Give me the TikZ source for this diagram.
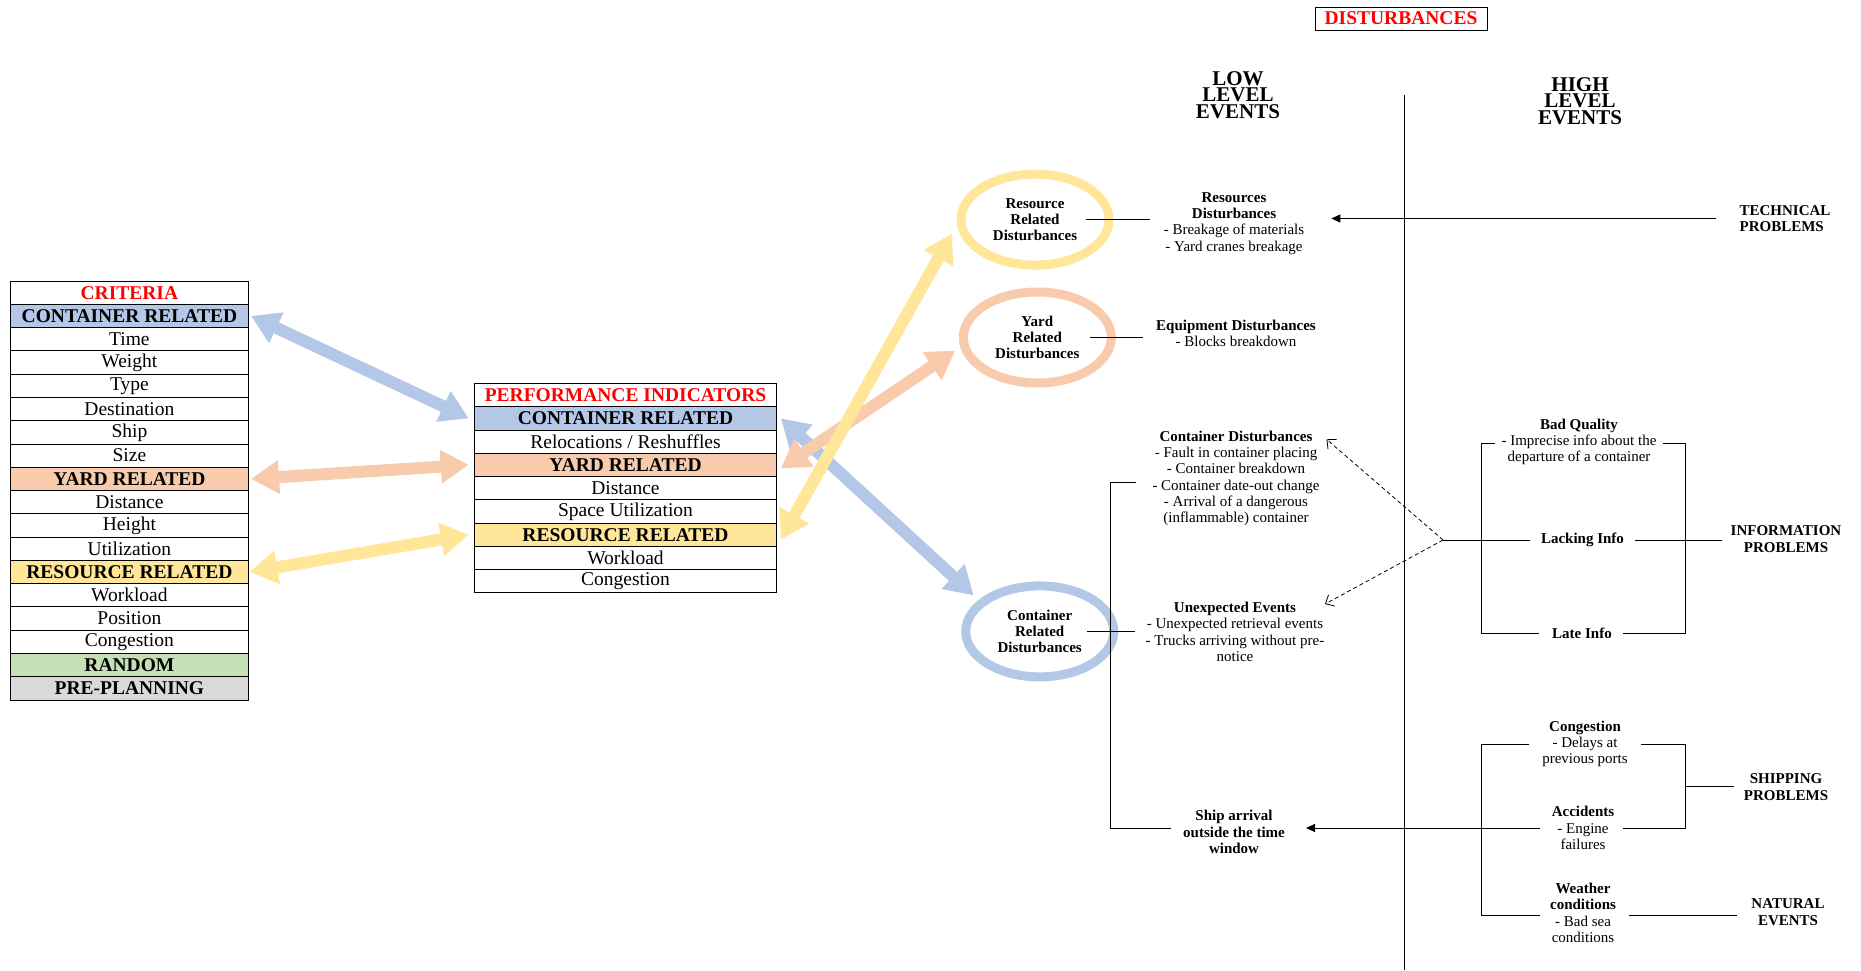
\documentclass[tikz,border=0pt]{standalone}
\usepackage{fontspec}
\setmainfont{Liberation Serif}
\usetikzlibrary{arrows.meta,shapes.geometric}
\definecolor{cblue}{HTML}{B4C7E7}
\definecolor{corange}{HTML}{F8CBAD}
\definecolor{cyellow}{HTML}{FFE699}
\definecolor{cgreen}{HTML}{C5E0B4}
\definecolor{cgrey}{HTML}{D9D9D9}
\definecolor{titlered}{HTML}{FF0000}

\begin{document}
\begin{tikzpicture}[x=1pt, y=-1pt,
  every node/.style={inner sep=1pt},
  cell/.style={draw, line width=0.9pt, inner sep=0pt, outer sep=0pt, minimum height=23.28pt, font=\fontsize{19.5}{20}\selectfont},
  critcell/.style={cell, minimum width=237.3pt},
  perfcell/.style={cell, minimum width=301.5pt},
  hdcell/.style={font=\fontsize{19.5}{20}\selectfont\bfseries},
  redcell/.style={hdcell, text=titlered},
  fatarrow/.style={line width=12pt, {Triangle[length=28pt,width=32pt]}-{Triangle[length=28pt,width=32pt]}},
  ringnode/.style={ellipse, draw, line width=9pt, minimum width=148pt, minimum height=91pt, inner sep=0pt, align=center, font=\fontsize{15}{16.3}\selectfont\bfseries},
  txt/.style={align=center, font=\fontsize{15}{16.3}\selectfont},
  boldtxt/.style={txt, font=\fontsize{15}{16.3}\selectfont\bfseries},
  caplabel/.style={align=center, font=\fontsize{15}{16.5}\selectfont\bfseries},
  bigtitle/.style={align=center, font=\fontsize{21}{16.4}\selectfont\bfseries},
  ln/.style={line width=1pt},
  arrln/.style={ln, -{Triangle[length=9pt,width=8pt]}},
  dashln/.style={line width=0.8pt, dash pattern=on 4pt off 3pt, -{Straight Barb[length=7pt,width=13pt]}},
]
\fill[white] (0,0) rectangle (1861,970);
\useasboundingbox (0,0) rectangle (1861,970);

% ---------- criteria table ----------
\node[critcell, redcell] (c0) at (129.4,292.64) {CRITERIA};
\node[critcell, hdcell, fill=cblue] (c1) at (129.4,315.92) {CONTAINER RELATED};
\node[critcell] (c2) at (129.4,339.20) {Time};
\node[critcell] (c3) at (129.4,362.48) {Weight};
\node[critcell] (c4) at (129.4,385.76) {Type};
\node[critcell] (c5) at (129.4,409.04) {Destination};
\node[critcell] (c6) at (129.4,432.32) {Ship};
\node[critcell] (c7) at (129.4,455.60) {Size};
\node[critcell, hdcell, fill=corange] (c8) at (129.4,478.88) {YARD RELATED};
\node[critcell] (c9) at (129.4,502.16) {Distance};
\node[critcell] (c10) at (129.4,525.44) {Height};
\node[critcell] (c11) at (129.4,548.72) {Utilization};
\node[critcell, hdcell, fill=cyellow] (c12) at (129.4,572.00) {RESOURCE RELATED};
\node[critcell] (c13) at (129.4,595.28) {Workload};
\node[critcell] (c14) at (129.4,618.56) {Position};
\node[critcell] (c15) at (129.4,641.84) {Congestion};
\node[critcell, hdcell, fill=cgreen] (c16) at (129.4,665.12) {RANDOM};
\node[critcell, hdcell, fill=cgrey] (c17) at (129.4,688.40) {PRE-PLANNING};

% ---------- performance indicators table ----------
\node[perfcell, redcell] (p0) at (625.5,395.04) {PERFORMANCE INDICATORS};
\node[perfcell, hdcell, fill=cblue] (p1) at (625.5,418.32) {CONTAINER RELATED};
\node[perfcell] (p2) at (625.5,441.60) {Relocations / Reshuffles};
\node[perfcell, hdcell, fill=corange] (p3) at (625.5,464.88) {YARD RELATED};
\node[perfcell] (p4) at (625.5,488.16) {Distance};
\node[perfcell] (p5) at (625.5,511.44) {Space Utilization};
\node[perfcell, hdcell, fill=cyellow] (p6) at (625.5,534.72) {RESOURCE RELATED};
\node[perfcell] (p7) at (625.5,558.00) {Workload};
\node[perfcell] (p8) at (625.5,581.28) {Congestion};

% ---------- disturbance rings ----------
\node[ringnode, draw=cyellow] (rr) at (1035,219.6) {Resource\\Related\\Disturbances};
\node[ringnode, draw=corange] (yr) at (1037.3,337.5) {Yard\\Related\\Disturbances};
\node[ringnode, draw=cblue] (cr) at (1039.7,631.4) {Container\\Related\\Disturbances};

% ---------- fat double arrows ----------
\draw[fatarrow, cblue] ([xshift=3pt]c1.east) -- ([xshift=-6pt]p1.west);
\draw[fatarrow, corange] ([xshift=3pt]c8.east) -- ([xshift=-6pt]p3.west);
\draw[fatarrow, cyellow] ([xshift=1.5pt]c12.east) -- ([xshift=-6pt]p6.west);
\draw[fatarrow, cblue] ([xshift=4.5pt]p1.east) -- ([shift={(-66,-36)}]cr.center);
\draw[fatarrow, corange] ([shift={(4.5,3.5)}]p3.east) -- ([shift={(-82,13)}]yr.center);
\draw[fatarrow, cyellow] ([shift={(4.5,5)}]p6.east) -- ([shift={(-83,14)}]rr.center);

% ---------- headings ----------
\node[draw, line width=0.9pt, minimum width=172pt, minimum height=23pt, inner sep=0pt,
      font=\fontsize{19.5}{20}\selectfont\bfseries, text=titlered] (distbox) at (1401,18.5) {DISTURBANCES};
\node[bigtitle] (low) at (1238,95) {LOW\\LEVEL\\EVENTS};
\node[bigtitle] (high) at (1580,101) {HIGH\\LEVEL\\EVENTS};
\coordinate (vtop) at (1404,95);
\coordinate (vbot) at (1404,970);
\draw[ln] (vtop) -- (vbot);

% ---------- low level events ----------
\node[txt] (resdist) at (1234,223.3) {\textbf{Resources}\\\textbf{Disturbances}\\- Breakage of materials\\- Yard cranes breakage};
\node[txt] (equip) at (1236,333.5) {\textbf{Equipment Disturbances}\\- Blocks breakdown};
\node[txt] (contdist) at (1236,478.5) {\textbf{Container Disturbances}\\- Fault in container placing\\- Container breakdown\\- Container date-out change\\- Arrival of a dangerous\\(inflammable) container};
\node[txt] (unexp) at (1235,632) {\textbf{Unexpected Events}\\- Unexpected retrieval events\\- Trucks arriving without pre-\\notice};
\node[boldtxt] (shiparr) at (1234,832) {Ship arrival\\outside the time\\window};

\draw[ln] ([xshift=-28pt]rr.east) -- ([xshift=-13pt]resdist.west |- rr.east);
\draw[ln] ([xshift=-26pt]yr.east) -- ([xshift=-12pt]equip.west |- yr.east);
\draw[ln] ([xshift=-31pt]cr.east) -- ([xshift=-10pt]unexp.west |- cr.east);

\coordinate (kT) at (1110.7,482);
\coordinate (kB) at (1110.7,828);
\draw[ln] (kT -| 1136,0) -- (kT) -- (kB) -- (kB -| 1171,0);

% ---------- high level events ----------
\node[caplabel, align=left] (tech) at (1785,218.5) {TECHNICAL\\PROBLEMS};
\draw[arrln] ([xshift=-22pt]tech.west) -- ([xshift=26pt]resdist.east |- tech.west);

\node[txt] (badq) at (1579,442) {\textbf{Bad Quality}\\- Imprecise info about the\\departure of a container};
\node[boldtxt] (lack) at (1582.5,540) {Lacking Info};
\node[boldtxt] (late) at (1582,633) {Late Info};
\node[caplabel] (info) at (1786,539) {INFORMATION\\PROBLEMS};

\coordinate (iTL) at (1481,443);
\coordinate (iBL) at (1481,633);
\coordinate (iTR) at (1685,443);
\coordinate (iBR) at (1685,633);
\coordinate (iMR) at (1685,540);
\coordinate (dsrc) at (1443,540);
\draw[ln] ([xshift=-5pt]badq.west |- iTL) -- (iTL) -- (iBL) -- ([xshift=-12pt]late.west);
\draw[ln] ([xshift=5pt]badq.east |- iTR) -- (iTR) -- (iBR) -- ([xshift=10pt]late.east);
\draw[ln] (dsrc) -- ([xshift=-10pt]lack.west);
\draw[ln] ([xshift=10pt]lack.east) -- (iMR) -- ([xshift=-8pt]info.west |- iMR);

\coordinate (tipA) at (1326.5,439.3);
\coordinate (tipB) at (1325,604);
\draw[dashln] (dsrc) -- (tipA);
\draw[dashln] (dsrc) -- (tipB);

\node[txt] (cong) at (1585,744) {\textbf{Congestion}\\- Delays at\\previous ports};
\node[txt] (acc) at (1583,828) {\textbf{Accidents}\\- Engine\\failures};
\node[txt] (weather) at (1583,913) {\textbf{Weather}\\\textbf{conditions}\\- Bad sea\\conditions};
\node[caplabel] (shipp) at (1786,787) {SHIPPING\\PROBLEMS};
\node[caplabel] (natural) at (1788,912) {NATURAL\\EVENTS};

\coordinate (sTL) at (1481,744);
\coordinate (sBL) at (1481,915);
\coordinate (sTR) at (1685,744);
\coordinate (sBR) at (1685,828);
\coordinate (sMR) at (1685,786);
\draw[ln] ([xshift=-12pt]cong.west |- sTL) -- (sTL) -- (sBL) -- ([xshift=-9pt]weather.west |- sBL);
\draw[ln] ([xshift=12pt]cong.east |- sTR) -- (sTR) -- (sBR) -- ([xshift=8pt]acc.east |- sBR);
\draw[ln] (sMR) -- ([xshift=-9pt]shipp.west |- sMR);
\draw[ln] ([xshift=12pt]weather.east |- sBL) -- ([xshift=-13pt]natural.west |- sBL);
\draw[arrln] ([xshift=-11pt]acc.west) -- ([xshift=20pt]shiparr.east |- acc.west);

\end{tikzpicture}
\end{document}
